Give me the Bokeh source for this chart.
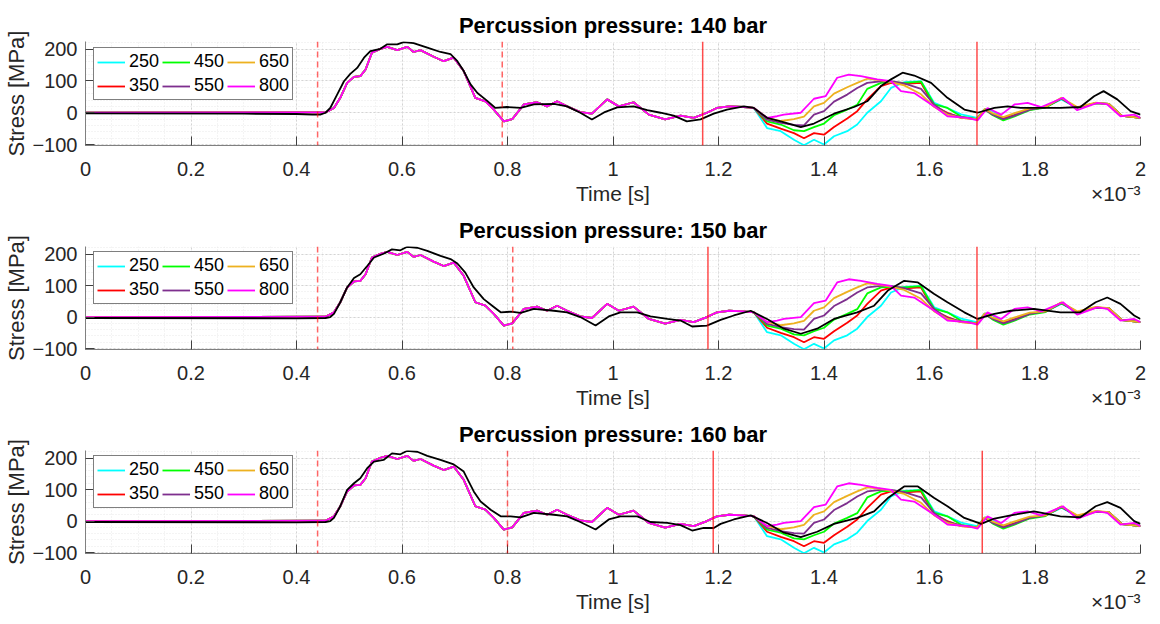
from bokeh.plotting import figure
from bokeh.layouts import column
from bokeh.models import (Range1d, SingleIntervalTicker, FixedTicker, Span, LinearAxis,
                          CustomJSTickFormatter)
from bokeh.embed import file_html
from bokeh.resources import INLINE

# ---------------------------------------------------------------- data
# time in ms (axis shows seconds with a x10^-3 multiplier), stress in MPa

pressures = [140, 150, 160]
legend_labels = ["250", "350", "450", "550", "650", "800"]
line_colors = ["#00FFFF", "#FF0000", "#00FF00", "#7E2F8E", "#EDB120", "#FF00FF"]

# event markers per panel: dashed (wave arrival/reflection) and solid lines
dashed_lines = {140: [0.44, 0.79], 150: [0.44, 0.81], 160: [0.44, 0.80]}
solid_lines = {140: [1.17, 1.69], 150: [1.18, 1.69], 160: [1.19, 1.70]}

# 800 series
time_800 = [0.0, 0.455, 0.471, 0.483, 0.496, 0.509, 0.521, 0.531, 0.543, 0.559,
            0.572, 0.591, 0.610, 0.622, 0.635, 0.660, 0.679, 0.698, 0.717, 0.739,
            0.758, 0.774, 0.793, 0.809, 0.831, 0.856, 0.875, 0.894, 0.913, 0.938,
            0.960, 0.989, 1.011, 1.039, 1.068, 1.099, 1.128, 1.153, 1.178, 1.197,
            1.220, 1.248, 1.267, 1.292, 1.311, 1.324, 1.356, 1.381, 1.403, 1.425,
            1.447, 1.470, 1.501, 1.527, 1.546, 1.571, 1.609, 1.634, 1.672, 1.691,
            1.710, 1.736, 1.761, 1.786, 1.812, 1.853, 1.880, 1.918, 1.937, 1.962,
            1.988, 2.0]
stress_800 = [0, 1, 15, 47, 94, 113, 115, 136, 189, 201,
              207, 197, 207, 191, 197, 176, 162, 173, 131, 47,
              36, 10, -27, -20, 26, 33, 20, 36, 20, 2,
              -3, 42, 20, 33, -6, -21, -9, -16, 0, 15,
              20, 18, 15, -16, -11, -6, 0, 44, 52, 110,
              120, 115, 105, 99, 68, 62, 20, -11, -16, -24,
              15, -6, 26, 31, 18, 47, 8, 31, 26, -11,
              -6, -16]

# the other series follow 800 until ~1.27 ms, then separate
time_mid = [1.292, 1.318, 1.343, 1.362, 1.381, 1.400, 1.419, 1.444, 1.463,
            1.482, 1.508, 1.527, 1.552, 1.584, 1.609, 1.634, 1.660, 1.690]
stress_mid_250 = [-48, -58, -85, -102, -85, -100, -74, -58, -37, 0, 36, 78, 96, 99, 31, 15, -5, -16]
stress_mid_350 = [-34, -50, -64, -80, -64, -69, -45, -18, 5, 42, 84, 94, 91, 94, 20, 0, -16, -20]
stress_mid_450 = [-27, -37, -55, -58, -45, -34, -8, 10, 25, 75, 94, 96, 94, 98, 26, 15, -12, -20]
stress_mid_550 = [-22, -32, -38, -40, -6, 5, 35, 57, 78, 94, 99, 99, 92, 75, 25, -3, -14, -20]
stress_mid_650 = [-16, -26, -20, -12, 20, 31, 60, 80, 94, 107, 102, 96, 86, 58, 18, -6, -16, -20]

time_tail = [1.705, 1.720, 1.740, 1.760, 1.790, 1.820, 1.850, 1.880, 1.915, 1.940, 1.965, 2.0]
stress_tail_250 = [12, 5, -15, -5, 12, 18, 42, 15, 30, 28, -10, -16]
stress_tail_350 = [10, -5, -18, -8, 10, 18, 45, 15, 30, 28, -10, -16]
stress_tail_450 = [10, -8, -24, -12, 8, 16, 45, 16, 30, 28, -10, -16]
stress_tail_550 = [10, -6, -20, -10, 10, 18, 45, 16, 30, 28, -10, -16]
stress_tail_650 = [12, -2, -14, -2, 14, 18, 47, 18, 32, 28, -10, -16]

# reference (black) curve, one per percussion pressure
time_black_140 = [0.0, 0.30, 0.40, 0.430, 0.445, 0.455, 0.464, 0.477, 0.490, 0.502,
                  0.515, 0.528, 0.540, 0.559, 0.572, 0.591, 0.603, 0.622, 0.648, 0.673,
                  0.692, 0.705, 0.717, 0.730, 0.743, 0.761, 0.777, 0.799, 0.825, 0.850,
                  0.888, 0.913, 0.938, 0.960, 0.983, 1.008, 1.039, 1.065, 1.090, 1.115,
                  1.140, 1.166, 1.191, 1.216, 1.248, 1.267, 1.292, 1.318, 1.356, 1.381,
                  1.419, 1.457, 1.482, 1.508, 1.527, 1.549, 1.571, 1.603, 1.634, 1.666,
                  1.691, 1.723, 1.748, 1.773, 1.798, 1.848, 1.886, 1.912, 1.930, 1.956,
                  1.981, 2.0]
stress_black_140 = [-2, -3, -4, -6, -6, 0, 15, 57, 99, 122,
                    141, 173, 194, 201, 215, 215, 222, 219, 205, 191,
                    184, 162, 131, 89, 62, 38, 15, 18, 15, 26,
                    28, 20, 0, -21, 1, 17, 20, 8, 0, -9,
                    -27, -21, -3, 10, 20, 15, -16, -27, -45, -34,
                    -3, 18, 36, 84, 105, 126, 117, 94, 47, 10,
                    0, 15, 20, 15, 15, 15, 18, 52, 68, 42,
                    5, -6]

time_black_150 = [0.0, 0.40, 0.455, 0.464, 0.471, 0.483, 0.496, 0.509, 0.521, 0.534,
                  0.547, 0.565, 0.581, 0.597, 0.610, 0.629, 0.648, 0.673, 0.692, 0.705,
                  0.720, 0.736, 0.755, 0.771, 0.787, 0.806, 0.825, 0.850, 0.888, 0.913,
                  0.938, 0.967, 0.992, 1.014, 1.046, 1.071, 1.103, 1.128, 1.150, 1.178,
                  1.204, 1.229, 1.261, 1.292, 1.324, 1.356, 1.387, 1.419, 1.463, 1.495,
                  1.521, 1.552, 1.578, 1.609, 1.634, 1.666, 1.691, 1.723, 1.754, 1.798,
                  1.848, 1.886, 1.915, 1.937, 1.962, 1.988, 2.0]
stress_black_150 = [-3, -4, -3, 0, 10, 47, 94, 124, 136, 162,
                    189, 201, 215, 212, 223, 220, 210, 194, 184, 170,
                    141, 94, 57, 36, 15, 17, 13, 26, 20, 15,
                    0, -27, 2, 15, 15, 2, -6, -11, -30, -27,
                    -9, 5, 20, -6, -37, -53, -37, -6, 15, 36,
                    84, 115, 110, 73, 47, 15, -6, 10, 20, 26,
                    15, 15, 47, 62, 42, 5, -6]

time_black_160 = [0.0, 0.40, 0.455, 0.464, 0.471, 0.483, 0.496, 0.509, 0.521, 0.534,
                  0.547, 0.565, 0.581, 0.597, 0.610, 0.629, 0.648, 0.673, 0.698, 0.717,
                  0.736, 0.749, 0.768, 0.787, 0.806, 0.825, 0.850, 0.888, 0.913, 0.938,
                  0.967, 0.992, 1.014, 1.046, 1.071, 1.103, 1.128, 1.150, 1.172, 1.191,
                  1.204, 1.229, 1.261, 1.292, 1.324, 1.356, 1.387, 1.419, 1.463, 1.495,
                  1.521, 1.552, 1.578, 1.609, 1.634, 1.666, 1.698, 1.723, 1.754, 1.798,
                  1.848, 1.886, 1.915, 1.937, 1.962, 1.988, 2.0]
stress_black_160 = [-3, -4, -3, 0, 10, 47, 99, 120, 136, 168,
                    189, 194, 215, 212, 223, 220, 207, 194, 180, 157,
                    94, 62, 36, 15, 15, 12, 26, 20, 15, -3,
                    -27, 5, 15, 15, -3, -6, -13, -30, -22, -22,
                    -9, 5, 18, -6, -37, -51, -34, -9, 10, 31,
                    73, 110, 110, 73, 47, 10, -9, 8, 18, 31,
                    15, 12, 47, 60, 42, 0, -9]

black_curves = {
    140: (time_black_140, stress_black_140),
    150: (time_black_150, stress_black_150),
    160: (time_black_160, stress_black_160),
}

# ---------------------------------------------------------------- series assembly
n_pre = sum(1 for t in time_800 if t <= 1.267)
time_pre = time_800[:n_pre]
stress_pre = stress_800[:n_pre]

mid_values = [stress_mid_250, stress_mid_350, stress_mid_450, stress_mid_550, stress_mid_650]
tail_values = [stress_tail_250, stress_tail_350, stress_tail_450, stress_tail_550, stress_tail_650]

series = []
for mid, tail in zip(mid_values, tail_values):
    series.append((time_pre + time_mid + time_tail, stress_pre + mid + tail))
series.append((time_800, stress_800))

# ---------------------------------------------------------------- styling
FONT = "Liberation Sans"
TEXT = "#262626"
Y_MIN, Y_MAX = -103, 224


def make_panel(pressure, border_top):
    p = figure(width=1160, height=border_top + 104 + 66,
               min_border_left=85, min_border_right=20,
               min_border_top=border_top, min_border_bottom=66,
               x_range=Range1d(0, 2), y_range=Range1d(Y_MIN, Y_MAX),
               output_backend="svg", toolbar_location=None,
               background_fill_color="white", border_fill_color="white")
    p.outline_line_color = None

    p.title.text = f"Percussion pressure: {pressure} bar"
    p.title.align = "center"
    p.title.text_font = FONT
    p.title.text_font_size = "22px"
    p.title.text_font_style = "bold"
    p.title.text_color = "black"
    p.title.standoff = 8

    xax = p.xaxis[0]
    yax = p.yaxis[0]
    xax.ticker = SingleIntervalTicker(interval=0.2, num_minor_ticks=4)
    yax.ticker = SingleIntervalTicker(interval=100, num_minor_ticks=5)
    xax.formatter = CustomJSTickFormatter(
        code="return tick.toFixed(1).replace(/\\.0$/, '');")

    for ax in (xax, yax):
        ax.axis_line_color = "#808080"
        ax.axis_line_width = 1
        ax.major_tick_line_color = "#404040"
        ax.major_tick_in = 9
        ax.major_tick_out = 0
        ax.minor_tick_line_color = None
        ax.major_label_text_font = FONT
        ax.major_label_text_font_size = "20px"
        ax.major_label_text_color = TEXT
        ax.axis_label_text_font = FONT
        ax.axis_label_text_font_size = "22px"
        ax.axis_label_text_font_style = "normal"
        ax.axis_label_text_color = TEXT

    yax.axis_label = "Stress [MPa]"
    xax.major_label_standoff = 12
    yax.major_label_standoff = 4
    yax.axis_label_standoff = 0

    # second row under the time axis: axis title and the x10^-3 multiplier
    caption = LinearAxis(
        ticker=FixedTicker(ticks=[1.0, 1.953]),
        formatter=CustomJSTickFormatter(
            code="return tick < 1.5 ? 'Time [s]' : '\u00d710\u207b\u00b3';"),
        axis_line_color=None, major_tick_line_color=None, minor_tick_line_color=None,
        major_tick_in=0, major_tick_out=0, major_label_standoff=3,
        major_label_text_font=FONT, major_label_text_font_size="21px",
        major_label_text_color=TEXT)
    p.add_layout(caption, "below")

    for g in (p.xgrid, p.ygrid):
        g.grid_line_color = "#d4d4d4"
        g.grid_line_dash = "2 2"
        g.minor_grid_line_color = "#e8e8e8"
        g.minor_grid_line_dash = "1 2"

    for (t, s), color, lab in zip(series, line_colors, legend_labels):
        p.line(t, s, line_color=color, line_width=1.8, legend_label=lab)

    tb, sb = black_curves[pressure]
    p.line(tb, sb, line_color="black", line_width=1.8)

    for loc in dashed_lines[pressure]:
        p.add_layout(Span(location=loc, dimension="height", line_color="#ff0000",
                          line_alpha=0.6, line_width=1.5, line_dash="6 4"))
    for loc in solid_lines[pressure]:
        p.add_layout(Span(location=loc, dimension="height", line_color="#ff0000",
                          line_alpha=0.7, line_width=1.5))

    lg = p.legend[0]
    lg.ncols = 3
    lg.location = (8, 45)
    lg.label_text_font = FONT
    lg.label_text_font_size = "18px"
    lg.label_text_color = "black"
    lg.glyph_width = 28
    lg.glyph_height = 18
    lg.label_height = 18
    lg.label_standoff = 4
    lg.spacing = 3
    lg.padding = 3
    lg.margin = 0
    lg.border_line_color = "black"
    lg.border_line_width = 1
    lg.background_fill_color = "white"
    lg.background_fill_alpha = 1
    return p


panels = [make_panel(140, 41), make_panel(150, 34), make_panel(160, 34)]
layout = column(*panels, spacing=0)

open("out.html", "w").write(file_html(layout, INLINE))
